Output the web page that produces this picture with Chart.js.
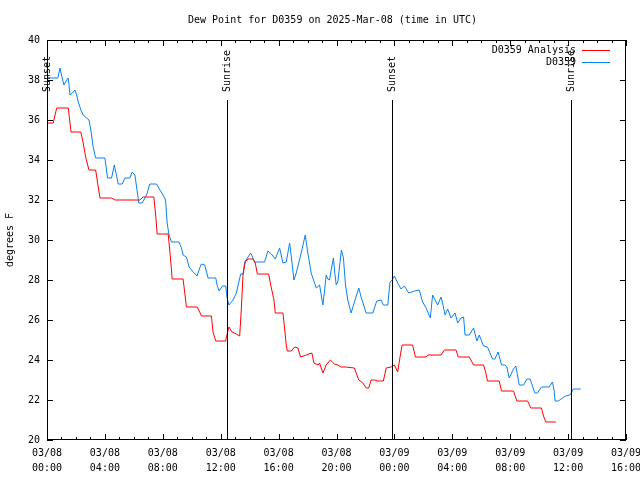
<!DOCTYPE html>
<html>
<head>
<meta charset="utf-8">
<script src="https://cdn.jsdelivr.net/npm/chart.js@4/dist/chart.umd.min.js"></script>
<style>
  html, body { margin: 0; padding: 0; background: #fff; }
  canvas { display: block; }
</style>
</head>
<body>
<canvas id="dew" width="640" height="480"></canvas>
<script>
// hours since 03/08 00:00 UTC, dew point in F
const obsHours = [0.0, 0.3, 0.75, 0.9, 1.0, 1.17, 1.36, 1.47, 1.59, 1.75, 1.93, 2.05, 2.16, 2.34, 2.5, 2.74, 2.9, 3.03, 3.19, 3.36,
  4.0, 4.11, 4.18, 4.46, 4.65, 4.78, 4.92, 5.2, 5.38, 5.72, 5.89, 6.07, 6.19, 6.34, 6.57, 6.88, 7.1, 7.57, 7.8, 8.02,
  8.19, 8.3, 8.43, 8.6, 9.12, 9.29, 9.4, 9.63, 9.82, 10.1, 10.37, 10.55, 10.67, 10.9, 11.13, 11.66, 11.75, 11.89, 12.12, 12.35,
  12.43, 12.57, 12.85, 13.08, 13.24, 13.38, 13.54, 13.66, 13.84, 14.07, 14.23, 14.34, 15.03, 15.26, 15.5, 15.77, 16.07, 16.3, 16.53, 16.76,
  16.88, 17.06, 17.22, 17.61, 17.84, 18.02, 18.25, 18.6, 18.83, 19.06, 19.29, 19.4, 19.52, 19.63, 19.79, 19.86, 19.98, 20.09, 20.26, 20.34,
  20.48, 20.62, 20.78, 21.01, 21.24, 21.54, 21.7, 22.05, 22.51, 22.78, 23.08, 23.24, 23.54, 23.7, 23.84, 24.0, 24.23, 24.46, 24.69, 24.99,
  25.38, 25.72, 25.95, 26.19, 26.48, 26.64, 26.81, 26.99, 27.22, 27.33, 27.5, 27.68, 27.91, 28.19, 28.37, 28.6, 28.78, 28.88, 29.17, 29.47,
  29.7, 29.86, 30.16, 30.43, 30.78, 30.94, 31.17, 31.4, 31.63, 31.77, 31.93, 32.23, 32.39, 32.62, 32.92, 33.15, 33.38, 33.7, 33.88, 34.16,
  34.69, 34.92, 35.03, 35.1, 35.33, 35.6, 35.84, 36.13, 36.36, 36.87];
const obsDew = [38.15, 38.1, 38.1, 38.6, 38.25, 37.75, 38.0, 38.1, 37.25, 37.35, 37.5, 37.25, 36.9, 36.5, 36.25, 36.1, 36.0, 35.5, 34.65, 34.1,
  34.1, 33.5, 33.1, 33.1, 33.75, 33.3, 32.8, 32.8, 33.1, 33.1, 33.4, 33.25, 32.65, 31.85, 31.85, 32.25, 32.8, 32.8, 32.5, 32.25,
  32.0, 30.85, 30.25, 29.9, 29.9, 29.6, 29.25, 29.15, 28.65, 28.4, 28.2, 28.6, 28.8, 28.75, 28.1, 28.1, 27.75, 27.45, 27.7, 27.7,
  27.15, 26.75, 27.0, 27.35, 27.85, 28.3, 28.3, 28.9, 29.1, 29.35, 29.1, 28.9, 28.9, 29.45, 29.3, 29.05, 29.6, 28.85, 28.9, 29.85,
  29.15, 28.0, 28.35, 29.5, 30.25, 29.35, 28.35, 27.6, 27.75, 26.75, 28.25, 28.05, 28.0, 28.5, 29.1, 28.5, 27.75, 27.9, 29.0, 29.5,
  29.1, 27.75, 27.0, 26.35, 26.9, 27.6, 27.15, 26.35, 26.35, 26.95, 27.0, 26.75, 26.75, 27.9, 28.0, 28.2, 27.85, 27.55, 27.7, 27.35,
  27.45, 27.5, 26.9, 26.6, 26.1, 27.25, 27.0, 26.75, 27.15, 26.85, 26.25, 26.55, 26.1, 26.35, 25.85, 26.1, 26.15, 25.25, 25.25, 25.6,
  24.95, 25.25, 24.7, 24.65, 24.05, 24.05, 24.4, 23.75, 23.75, 23.65, 23.1, 23.55, 23.7, 22.75, 22.75, 23.05, 23.05, 22.35, 22.35, 22.65,
  22.65, 22.9, 22.5, 21.95, 21.95, 22.1, 22.2, 22.25, 22.55, 22.55];

const anaHours = [0.0, 0.43, 0.67, 1.47, 1.66, 2.34, 2.5, 2.67, 2.9, 3.36, 3.54, 3.66, 4.46, 4.69, 6.41, 6.64, 7.38, 7.52, 7.61, 8.37,
  8.48, 8.6, 8.64, 9.4, 9.52, 9.63, 10.37, 10.55, 10.67, 11.36, 11.47, 11.66, 12.34, 12.46, 12.57, 12.78, 13.08, 13.31, 13.43, 13.54,
  13.7, 13.88, 14.23, 14.39, 14.53, 15.31, 15.5, 15.68, 15.77, 16.3, 16.41, 16.53, 16.6, 16.88, 17.1, 17.33, 17.52, 17.91, 18.3, 18.44,
  18.72, 18.83, 19.06, 19.29, 19.57, 19.86, 20.09, 20.32, 20.62, 21.24, 21.36, 21.54, 21.82, 22.05, 22.23, 22.39, 22.62, 22.85, 23.24, 23.43,
  23.77, 24.0, 24.23, 24.39, 24.53, 25.26, 25.45, 26.19, 26.3, 27.22, 27.45, 28.26, 28.41, 29.17, 29.47, 30.16, 30.32, 30.43, 31.24, 31.4,
  32.23, 32.46, 33.2, 33.43, 34.16, 34.3, 34.46, 35.15];
const anaDew = [35.85, 35.85, 36.6, 36.6, 35.4, 35.4, 34.85, 34.15, 33.5, 33.5, 32.65, 32.1, 32.1, 32.0, 32.0, 32.15, 32.15, 31.15, 30.3, 30.3,
  29.5, 28.5, 28.05, 28.05, 27.35, 26.65, 26.65, 26.4, 26.2, 26.2, 25.4, 24.95, 24.95, 25.35, 25.65, 25.4, 25.3, 25.2, 26.6, 28.25,
  28.9, 29.05, 29.05, 28.85, 28.3, 28.3, 27.6, 27.0, 26.35, 26.35, 25.6, 24.75, 24.45, 24.45, 24.65, 24.6, 24.15, 24.25, 24.35, 23.85,
  23.75, 23.85, 23.35, 23.75, 24.0, 23.8, 23.75, 23.65, 23.65, 23.6, 23.35, 23.0, 22.85, 22.6, 22.6, 23.0, 23.0, 22.95, 22.95, 23.6,
  23.65, 23.75, 23.4, 24.15, 24.75, 24.75, 24.15, 24.15, 24.25, 24.25, 24.5, 24.5, 24.15, 24.15, 23.75, 23.75, 23.35, 22.95, 22.95, 22.45,
  22.45, 21.95, 21.95, 21.6, 21.6, 21.2, 20.9, 20.9];

const sunHours = [0.03, 12.45, 23.8, 36.17];
const sunLabels = ['Sunset', 'Sunrise', 'Sunset', 'Sunrise'];

const seriesNames = ['D0359 Analysis', 'D0359'];
const seriesColors = ['#ff0000', '#0a80f0'];

const FONT = '10px "DejaVu Sans Mono", monospace';

function pairs(xs, ys) {
    return xs.map((h, i) => ({ x: h, y: ys[i] }));
}

function hourLabel(h) {
    const day = 8 + Math.floor(h / 24);
    const hh = h % 24;
    return ['03/0' + day, (hh < 10 ? '0' : '') + hh + ':00'];
}

// gnuplot-like frame, inward ticks, sun lines, legend and title
const frame = {
    id: 'frame',
    afterDatasetsDraw(chart) {
        const ctx = chart.ctx;
        const a = chart.chartArea;
        const xs = chart.scales.x;
        const ys = chart.scales.y;
        ctx.save();
        ctx.strokeStyle = '#000';
        ctx.lineWidth = 1;
        ctx.beginPath();

        for (let v = 20; v <= 40; v += 2) {
            const y = Math.round(ys.getPixelForValue(v)) + 0.5;
            ctx.moveTo(a.left, y); ctx.lineTo(a.left + 6, y);
            ctx.moveTo(a.right, y); ctx.lineTo(a.right - 6, y);
        }
        for (let h = 0; h <= 40; h++) {
            const x = Math.round(xs.getPixelForValue(h)) + 0.5;
            const len = h % 4 === 0 ? 6 : 3;
            ctx.moveTo(x, a.bottom); ctx.lineTo(x, a.bottom - len);
            ctx.moveTo(x, a.top); ctx.lineTo(x, a.top + len);
        }
        ctx.stroke();

        ctx.strokeRect(a.left + 0.5, a.top + 0.5, a.right - a.left - 1, a.bottom - a.top - 1);

        // sunrise / sunset
        ctx.font = FONT;
        ctx.fillStyle = '#000';
        sunHours.forEach((h, i) => {
            const x = Math.round(xs.getPixelForValue(h)) + 0.5;
            ctx.beginPath();
            ctx.moveTo(x, a.top + 60);
            ctx.lineTo(x, a.bottom);
            ctx.stroke();
            ctx.save();
            ctx.translate(x, a.top + 52);
            ctx.rotate(-Math.PI / 2);
            ctx.textAlign = 'left';
            ctx.textBaseline = 'middle';
            ctx.fillText(sunLabels[i], 0, 0);
            ctx.restore();
        });

        // legend
        ctx.textAlign = 'right';
        ctx.textBaseline = 'middle';
        seriesNames.forEach((name, i) => {
            const y = a.top + 10 + i * 12;
            ctx.fillStyle = '#000';
            ctx.fillText(name, a.right - 50, y);
            ctx.strokeStyle = seriesColors[i];
            ctx.beginPath();
            ctx.moveTo(a.right - 44, Math.round(y) + 0.5);
            ctx.lineTo(a.right - 16, Math.round(y) + 0.5);
            ctx.stroke();
        });

        // title
        ctx.fillStyle = '#000';
        ctx.textAlign = 'center';
        ctx.fillText('Dew Point for D0359 on 2025-Mar-08 (time in UTC)', (a.left + a.right) / 2 - 4, 20);
        ctx.restore();
    }
};

new Chart(document.getElementById('dew'), {
    type: 'line',
    data: {
        datasets: [{
            label: seriesNames[0],
            data: pairs(anaHours, anaDew),
            borderColor: seriesColors[0],
            borderWidth: 1,
            pointRadius: 0,
            tension: 0
        }, {
            label: seriesNames[1],
            data: pairs(obsHours, obsDew),
            borderColor: seriesColors[1],
            borderWidth: 1,
            pointRadius: 0,
            tension: 0
        }]
    },
    options: {
        responsive: false,
        animation: false,
        devicePixelRatio: 1,
        layout: { padding: { top: 40, right: 14, left: 0, bottom: 0 } },
        plugins: {
            legend: { display: false },
            title: { display: false },
            tooltip: { enabled: false }
        },
        scales: {
            x: {
                type: 'linear',
                min: 0,
                max: 40,
                grid: { display: false, drawTicks: false },
                border: { display: false },
                ticks: {
                    stepSize: 4,
                    autoSkip: false,
                    maxRotation: 0,
                    padding: 6,
                    color: '#000',
                    font: { family: '"DejaVu Sans Mono", monospace', size: 10, lineHeight: 1.5 },
                    callback: v => hourLabel(v)
                },
                afterFit: s => { s.height = 40; s.paddingLeft = 0; s.paddingRight = 0; }
            },
            y: {
                min: 20,
                max: 40,
                grid: { display: false, drawTicks: false },
                border: { display: false },
                ticks: {
                    stepSize: 2,
                    padding: 7,
                    color: '#000',
                    font: { family: '"DejaVu Sans Mono", monospace', size: 10 }
                },
                title: {
                    display: true,
                    text: 'degrees F',
                    color: '#000',
                    padding: 4,
                    font: { family: '"DejaVu Sans Mono", monospace', size: 10 }
                },
                afterFit: s => { s.width = 47; s.paddingTop = 0; s.paddingBottom = 0; }
            }
        }
    },
    plugins: [frame]
});
</script>
</body>
</html>
